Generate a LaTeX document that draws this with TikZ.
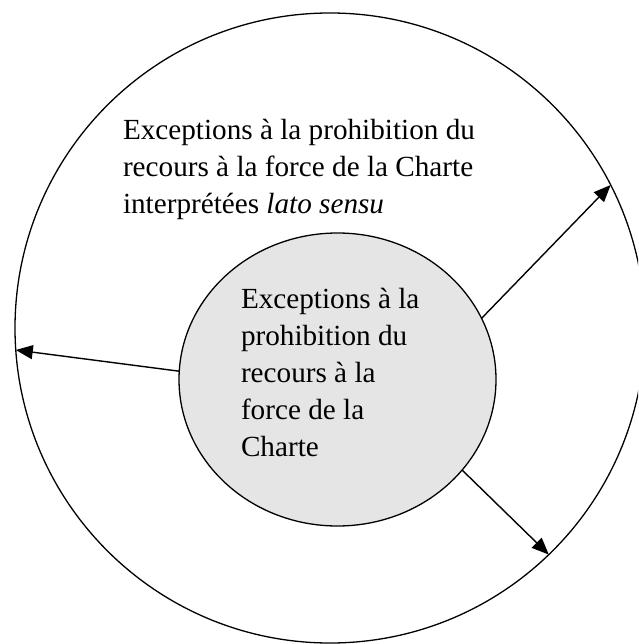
\documentclass[tikz,border=0pt]{standalone}
\usepackage{fontspec}
\setmainfont{Liberation Serif}
\usetikzlibrary{shapes.geometric,arrows.meta}
\begin{document}
\begin{tikzpicture}[x=1pt,y=-1pt,
  ring/.style={draw=black,line width=1.3pt,inner sep=0pt,outer sep=0pt},
  conn/.style={line width=1.4pt,-{Triangle[length=17pt,width=14pt]}},
  bodytext/.style={inner sep=0pt,outer sep=0pt,align=left,anchor=base west,font=\fontsize{29.2}{36.8}\selectfont}]
\useasboundingbox (0,0) rectangle (638,644);
\clip (0,0) rectangle (638,644);
\node[ring,circle,minimum size=630pt] (out) at (330,328) {};
\node[ring,ellipse,fill=black!10,minimum width=317pt,minimum height=293pt] (in) at (337.5,379.5) {};
\node[bodytext] (t1) at (123,213) {Exceptions à la prohibition du\\recours à la force de la Charte\\interprétées \textit{lato sensu}};
\node[bodytext] (t2) at (241,456) {Exceptions à la\\prohibition du\\recours à la\\force de la\\Charte};
\draw[conn] (in.23.7) -- (out.27.3);
\draw[conn] (in.177.3) -- (out.184.3);
\draw[conn] (in.-36) -- (out.-46.8);
\end{tikzpicture}
\end{document}
